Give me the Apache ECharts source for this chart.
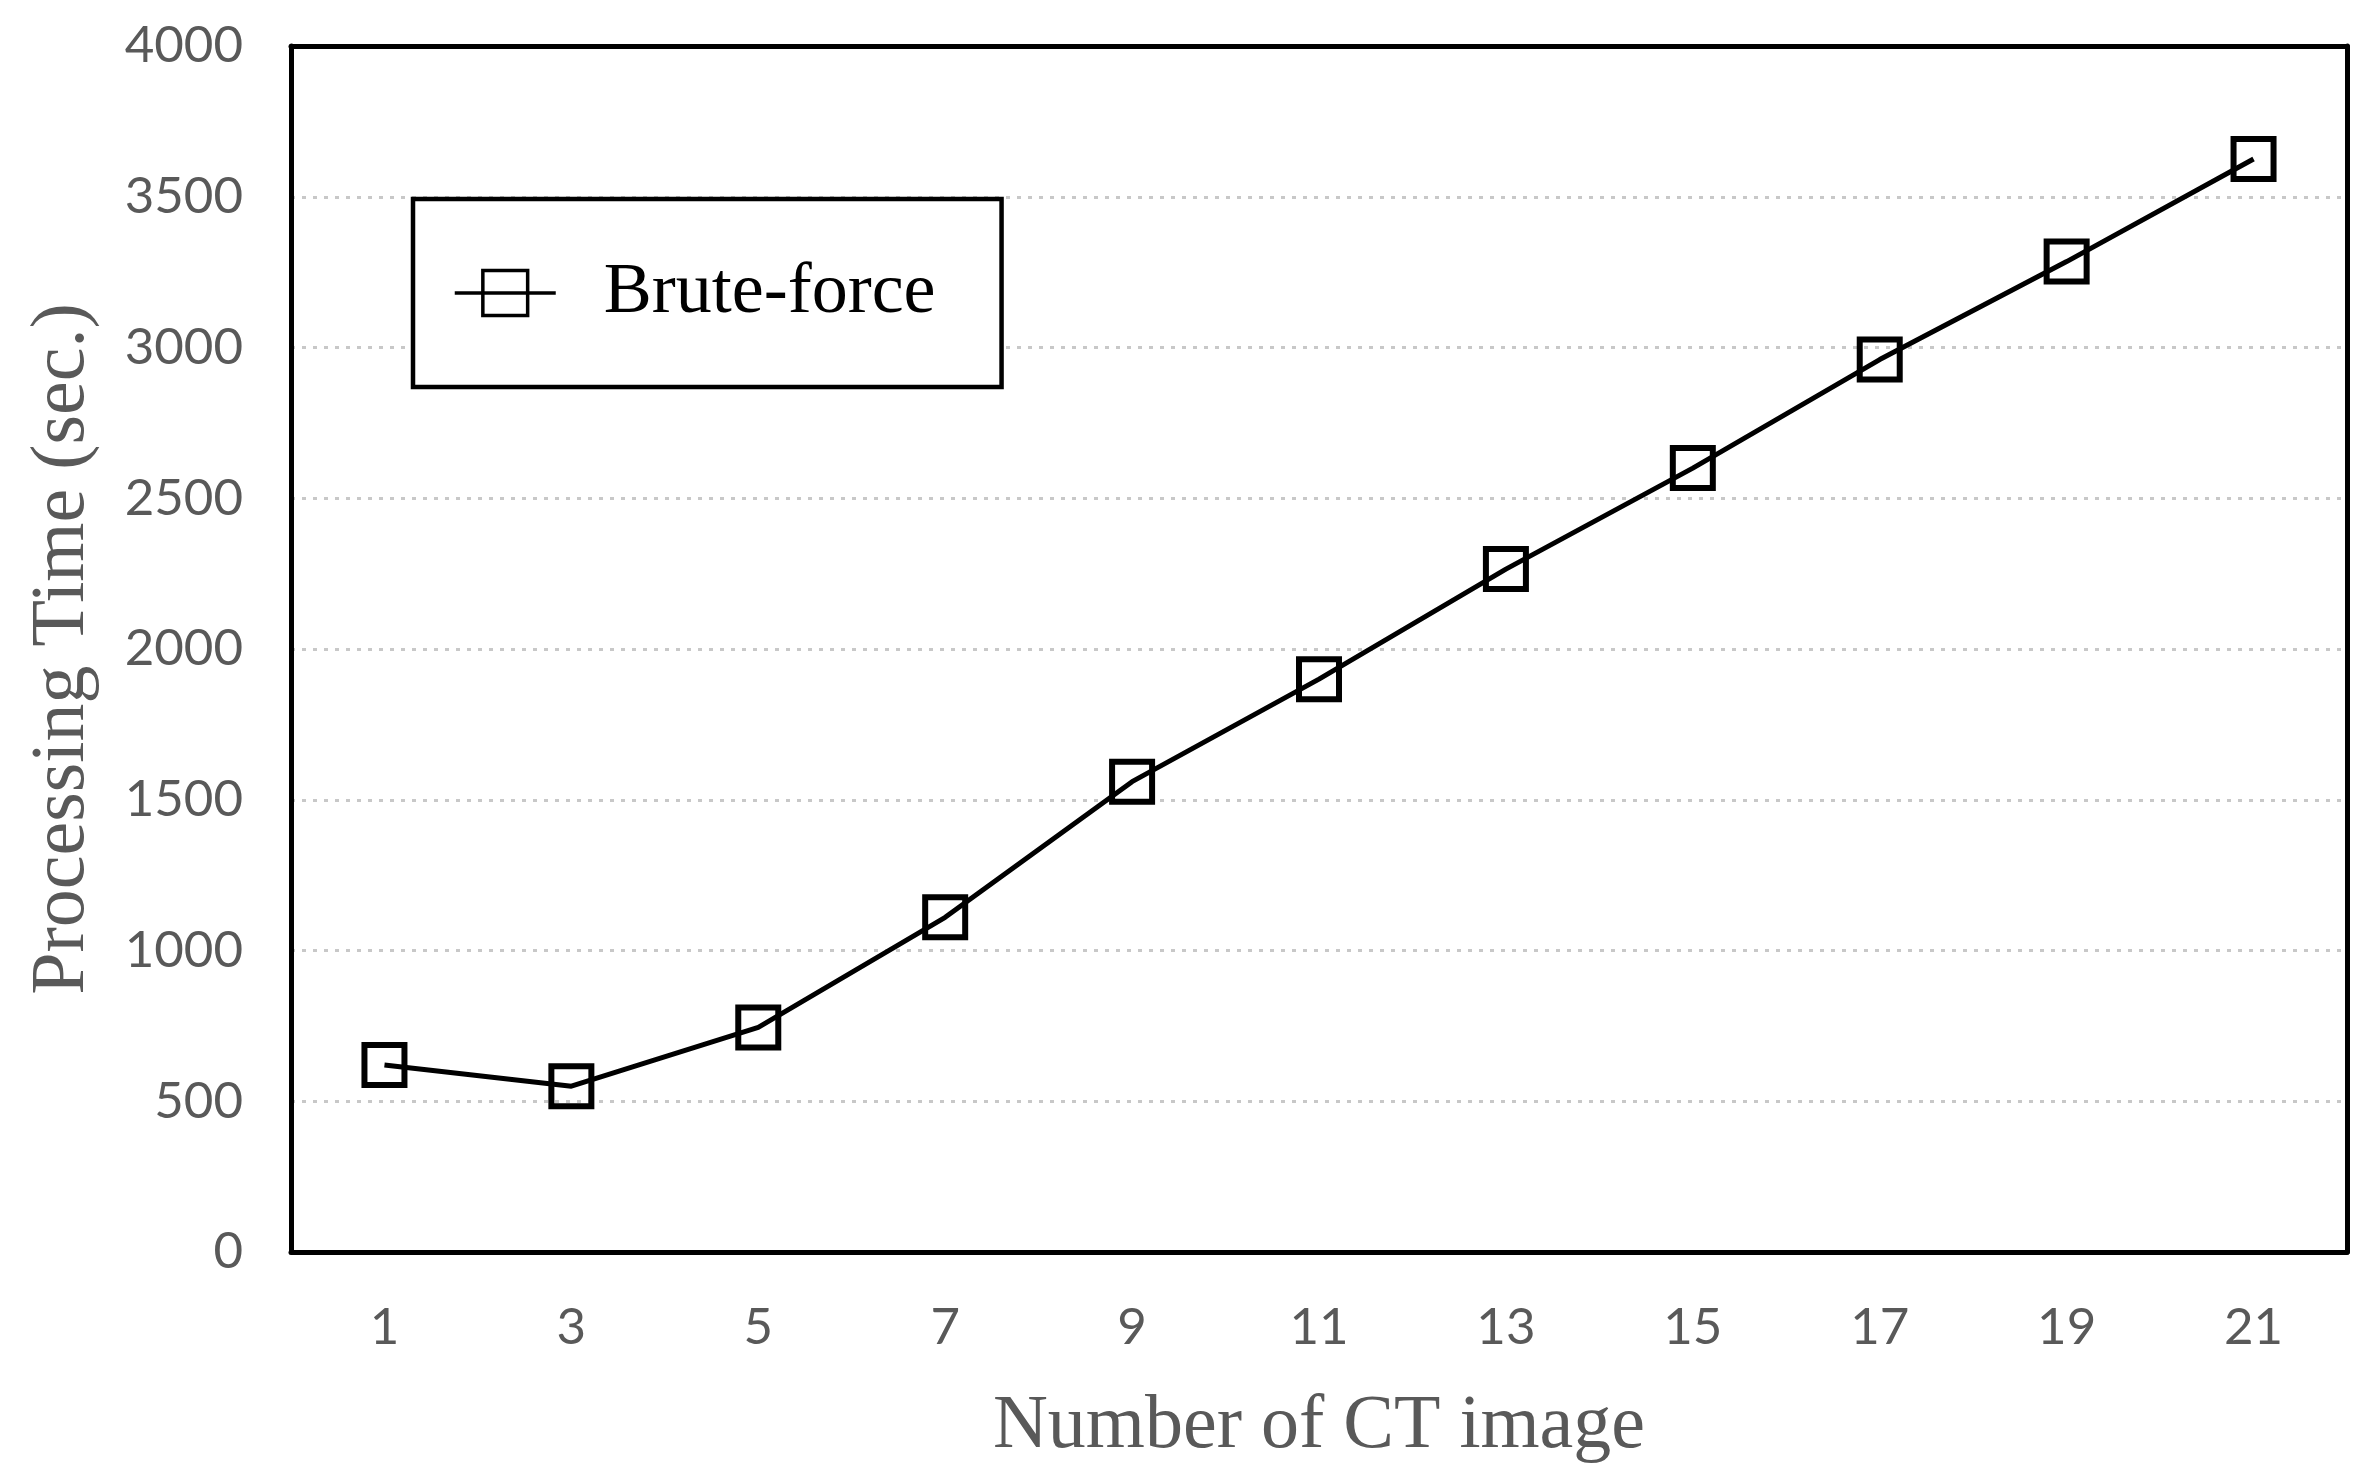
<!DOCTYPE html>
<html>
<head>
<meta charset="utf-8">
<script src="https://cdn.jsdelivr.net/npm/echarts@6/dist/echarts.min.js"></script>
<style>
html,body{margin:0;padding:0;background:#fff;}
#chart{width:2379px;height:1479px;}
</style>
</head>
<body>
<div id="chart"></div>
<script>
const categories = ['1','3','5','7','9','11','13','15','17','19','21'];
const bruteForce = [620, 550, 745, 1110, 1560, 1900, 2265, 2600, 2960, 3285, 3625];
const seriesName = 'Brute-force';
const xTitle = 'Number of CT image';
const yTitle = 'Processing Time (sec.)';
const yMin = 0, yMax = 4000, yStep = 500;

const frameLine = { show: true, onZero: false, lineStyle: { color: '#000', width: 5 } };

const chart = echarts.init(document.getElementById('chart'));
chart.setOption({
  animation: false,
  backgroundColor: '#fff',
  grid: {
    left: 291, right: 32, top: 46, bottom: 227,
    show: false
  },
  legend: {
    show: true,
    z: 20,
    left: 413, top: 199,
    orient: 'horizontal',
    padding: [54, 66, 54, 40],
    backgroundColor: '#fff',
    borderColor: '#000', borderWidth: 4.5,
    itemWidth: 101, itemHeight: 56,
    lineStyle: { width: 3.5, color: '#000' },
    itemStyle: { color: 'rgba(255,255,255,0)', borderColor: '#000', borderWidth: 3.5 },
    textStyle: { fontFamily: 'Liberation Serif', fontSize: 72, color: '#000', lineHeight: 80, padding: [0, 0, 0, 43] },
    data: [seriesName]
  },
  xAxis: [{
    type: 'category',
    data: categories,
    boundaryGap: true,
    position: 'bottom',
    axisLine: frameLine,
    axisTick: { show: false },
    axisLabel: { fontFamily: 'Lato', fontSize: 51, color: '#595959', margin: 50 },
    splitLine: { show: false },
    name: xTitle,
    nameLocation: 'middle',
    nameGap: 137,
    nameTextStyle: { fontFamily: 'Liberation Serif', fontSize: 76, color: '#595959' },
    z: 10
  }, {
    type: 'category',
    data: categories,
    position: 'top',
    boundaryGap: true,
    axisLine: frameLine,
    axisTick: { show: false },
    axisLabel: { show: false },
    splitLine: { show: false },
    z: 10
  }],
  yAxis: [{
    type: 'value',
    position: 'left',
    min: yMin, max: yMax, interval: yStep,
    axisLine: frameLine,
    axisTick: { show: false },
    axisLabel: { fontFamily: 'Lato', fontSize: 51, color: '#595959', margin: 48, formatter: v => String(v) },
    splitLine: { show: true, lineStyle: { color: '#c8c8c8', width: 3, type: [4, 7] } },
    name: yTitle,
    nameLocation: 'middle',
    nameGap: 190,
    nameTextStyle: { fontFamily: 'Liberation Serif', fontSize: 76, color: '#595959' },
    z: 1
  }, {
    type: 'value',
    position: 'right',
    min: yMin, max: yMax, interval: yStep,
    axisLine: frameLine,
    axisTick: { show: false },
    axisLabel: { show: false },
    splitLine: { show: false },
    z: 10
  }],
  series: [{
    name: seriesName,
    type: 'line',
    xAxisIndex: 0,
    yAxisIndex: 0,
    data: bruteForce,
    symbol: 'rect',
    symbolSize: 40,
    lineStyle: { color: '#000', width: 5 },
    itemStyle: { color: 'rgba(255,255,255,0)', borderColor: '#000', borderWidth: 6 },
    z: 5
  }]
});
</script>
</body>
</html>
